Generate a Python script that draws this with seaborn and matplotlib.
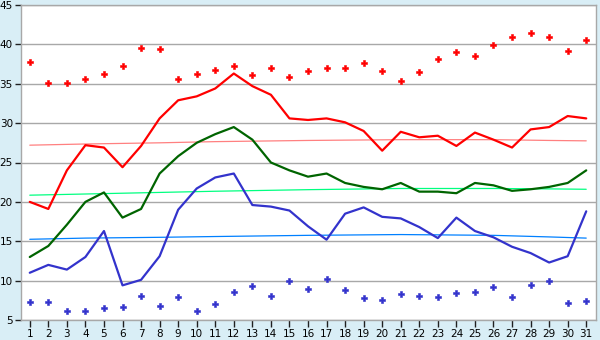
import matplotlib
matplotlib.use("Agg")
import matplotlib.pyplot as plt
import seaborn as sns
import pandas as pd
import numpy as np

days = list(range(1, 32))
abs_max = [37.7, 35.1, 35.1, 35.6, 36.3, 37.2, 39.5, 39.4, 35.6, 36.3,
           36.8, 37.2, 36.1, 37.0, 35.9, 36.6, 37.0, 37.0, 37.6, 36.6,
           35.4, 36.5, 38.2, 39.0, 38.5, 39.9, 41.0, 41.5, 41.0, 39.2, 40.5]
avg_max = [20.0, 19.1, 24.0, 27.2, 26.9, 24.4, 27.1, 30.6, 32.9, 33.4,
           34.4, 36.3, 34.7, 33.6, 30.6, 30.4, 30.6, 30.1, 29.0, 26.5,
           28.9, 28.2, 28.4, 27.1, 28.8, 27.9, 26.9, 29.2, 29.5, 30.9, 30.6]
avg_mean = [13.0, 14.4, 17.1, 20.0, 21.2, 18.0, 19.1, 23.6, 25.8, 27.5,
            28.6, 29.5, 27.9, 25.0, 24.0, 23.2, 23.6, 22.4, 21.9, 21.6,
            22.4, 21.3, 21.3, 21.1, 22.4, 22.1, 21.4, 21.6, 21.9, 22.4, 24.0]
avg_min = [11.0, 12.0, 11.4, 13.0, 16.3, 9.4, 10.1, 13.1, 19.0, 21.7,
           23.1, 23.6, 19.6, 19.4, 18.9, 16.9, 15.2, 18.5, 19.3, 18.1,
           17.9, 16.8, 15.4, 18.0, 16.3, 15.5, 14.3, 13.5, 12.3, 13.1, 18.8]
abs_min = [7.25, 7.25, 6.1, 6.1, 6.5, 6.65, 8.0, 6.8, 7.9, 6.2,
           7.0, 8.6, 9.3, 8.0, 10.0, 8.9, 10.2, 8.8, 7.8, 7.5,
           8.3, 8.1, 7.9, 8.4, 8.6, 9.2, 7.9, 9.4, 10.0, 7.1, 7.4]

# climate normals (thin lines), read at a few days
norm_days = [1, 4, 8, 11, 16, 21, 26, 29, 31]
norm_max = [27.2, 27.35, 27.5, 27.65, 27.8, 27.9, 27.9, 27.8, 27.75]
norm_mean = [20.85, 21.0, 21.2, 21.35, 21.55, 21.7, 21.7, 21.65, 21.6]
norm_min = [15.25, 15.4, 15.5, 15.6, 15.75, 15.85, 15.75, 15.55, 15.4]

y_ticks = [5, 10, 15, 20, 25, 30, 35, 40, 45]

df = pd.DataFrame({"day": days, "abs_max": abs_max, "avg_max": avg_max,
                   "avg_mean": avg_mean, "avg_min": avg_min, "abs_min": abs_min})
dn = pd.DataFrame({"day": norm_days, "max": norm_max, "mean": norm_mean, "min": norm_min})

sns.set_style("white")
plt.rcParams['font.family'] = ['DejaVu Sans']

fig = plt.figure(figsize=(6, 3.4), dpi=100)
fig.patch.set_facecolor('#D9EEF6')
ax = fig.add_axes([20.5/600, 20/340, 575/600, 315/340])
ax.set_facecolor('white')

for y in y_ticks:
    ax.axhline(y, color='#A8A8A8', lw=1.0, zorder=0)

sns.lineplot(data=dn, x="day", y="max", color='#FF8080', lw=0.9, ax=ax, zorder=1)
sns.lineplot(data=dn, x="day", y="mean", color='#00FF80', lw=0.9, ax=ax, zorder=1)
sns.lineplot(data=dn, x="day", y="min", color='#0080FF', lw=0.9, ax=ax, zorder=1)

sns.lineplot(data=df, x="day", y="avg_max", color='#FF0000', lw=1.6, ax=ax, zorder=2)
sns.lineplot(data=df, x="day", y="avg_mean", color='#006400', lw=1.6, ax=ax, zorder=2)
sns.lineplot(data=df, x="day", y="avg_min", color='#3333CC', lw=1.6, ax=ax, zorder=2)

sns.scatterplot(data=df, x="day", y="abs_max", color='#FF0000', marker='P', s=20,
                linewidth=0.4, edgecolor='#FF0000', ax=ax, zorder=3)
sns.scatterplot(data=df, x="day", y="abs_min", color='#3333CC', marker='P', s=20,
                linewidth=0.4, edgecolor='#3333CC', ax=ax, zorder=3)

ax.set_xlim(0.5, 31.5)
ax.set_ylim(5, 45)
ax.set_xticks(days)
ax.set_xticklabels([str(d) for d in days])
ax.set_yticks(y_ticks)
ax.set_yticklabels([str(y) for y in y_ticks])
ax.set_xlabel("")
ax.set_ylabel("")
for s in ax.spines.values():
    s.set_color('#A8A8A8')
    s.set_linewidth(1.0)
ax.tick_params(axis='both', which='both', length=4, width=1, color='#202020',
               labelsize=7.5, labelcolor='black', pad=1.5, direction='out')
ax.tick_params(axis='x', bottom=True, length=5)
ax.tick_params(axis='y', left=True)

fig.savefig("out.png", dpi=100, facecolor=fig.get_facecolor())
